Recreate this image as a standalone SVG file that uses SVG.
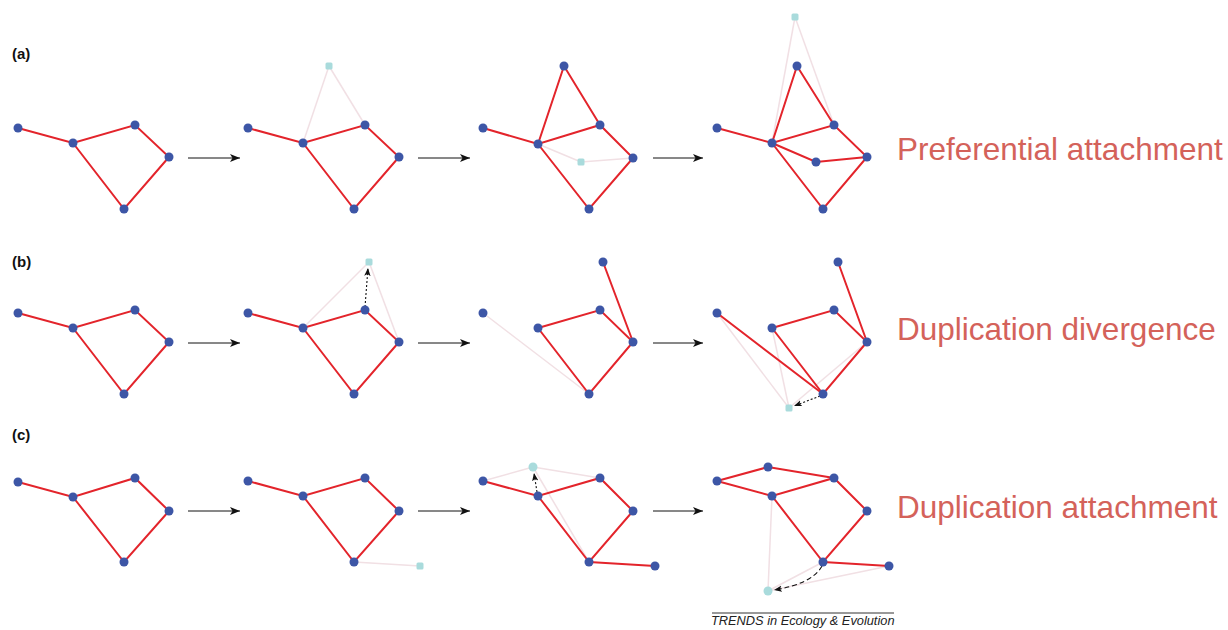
<svg xmlns="http://www.w3.org/2000/svg" width="1228" height="630" viewBox="0 0 1228 630">
  <style>
    .e { stroke: #e3242b; stroke-width: 2; fill: none; stroke-linecap: round; }
    .f { stroke: #f1e0e4; stroke-width: 1.5; fill: none; }
    .n { fill: #3d56a6; }
    .c { fill: #a9dbdc; }
    .step { stroke: #111; stroke-width: 1; fill: none; marker-end: url(#ah); }
    .dot { stroke: #111; stroke-width: 1.1; stroke-dasharray: 2 2; fill: none; marker-end: url(#sh); }
    .dash { stroke: #111; stroke-width: 1.1; stroke-dasharray: 5 3; fill: none; marker-end: url(#sh); }
    .lab { font-family: "Liberation Sans", Arial, sans-serif; font-weight: bold; font-size: 15px; fill: #111; }
    .model { font-family: "Liberation Sans", Arial, sans-serif; font-size: 31.5px; fill: #d4625a; }
    .credit { font-family: "Liberation Sans", Arial, sans-serif; font-style: italic; font-size: 12.8px; fill: #222; }
  </style>
  <defs>
    <marker id="ah" viewBox="0 0 10 8" refX="10" refY="4" markerWidth="11" markerHeight="8" markerUnits="userSpaceOnUse" orient="auto">
      <path d="M0,0 L10,4 L0,8 L2.5,4 z" fill="#111"/>
    </marker>
    <marker id="sh" viewBox="0 0 10 8" refX="10" refY="4" markerWidth="8" markerHeight="7" markerUnits="userSpaceOnUse" orient="auto">
      <path d="M0,0 L10,4 L0,8 L2.5,4 z" fill="#111"/>
    </marker>
  </defs>
  <rect width="1228" height="630" fill="#ffffff"/>

  <!-- panel labels -->
  <text class="lab" x="12" y="59">(a)</text>
  <text class="lab" x="12" y="267">(b)</text>
  <text class="lab" x="12" y="440">(c)</text>

  <!-- model names -->
  <text class="model" x="897" y="160">Preferential attachment</text>
  <text class="model" x="897" y="340">Duplication divergence</text>
  <text class="model" x="897" y="518">Duplication attachment</text>

  <!-- credit line -->
  <line x1="712" y1="613" x2="894" y2="613" stroke="#333" stroke-width="1"/>
  <text class="credit" x="711" y="625">TRENDS in Ecology &amp; Evolution</text>

  <g id="connectors">
    <!-- step arrows between snapshots -->
    <line class="step" x1="188" y1="158" x2="240" y2="158"/>
    <line class="step" x1="418" y1="158" x2="470" y2="158"/>
    <line class="step" x1="653" y1="158" x2="703" y2="158"/>
    <line class="step" x1="188" y1="343" x2="240" y2="343"/>
    <line class="step" x1="418" y1="343" x2="470" y2="343"/>
    <line class="step" x1="653" y1="343" x2="703" y2="343"/>
    <line class="step" x1="188" y1="511" x2="240" y2="511"/>
    <line class="step" x1="418" y1="511" x2="470" y2="511"/>
    <line class="step" x1="653" y1="511" x2="703" y2="511"/>

    <!-- (a) preferential attachment -->
    <path class="e" d="M18,128 L73,143 L135,125 L169,157 L124,209 L73,143"/>

    <line class="f" x1="303" y1="143" x2="329" y2="66"/>
    <line class="f" x1="329" y1="66" x2="365" y2="125"/>
    <path class="e" d="M248,128 L303,143 L365,125 L399,157 L354,209 L303,143"/>

    <line class="f" x1="538" y1="144" x2="581" y2="162"/>
    <line class="f" x1="581" y1="162" x2="633" y2="158"/>
    <path class="e" d="M483,128 L538,144 L600,125 L633,158 L589,209 L538,144"/>
    <path class="e" d="M538,144 L564,66 L600,125"/>

    <line class="f" x1="772" y1="143" x2="795" y2="17"/>
    <line class="f" x1="795" y1="17" x2="834" y2="125"/>
    <path class="e" d="M717,128 L772,143 L834,125 L867,157 L823,209 L772,143"/>
    <path class="e" d="M772,143 L797,66 L834,125"/>
    <path class="e" d="M772,143 L816,162 L867,157"/>

    <!-- (b) duplication divergence -->
    <path class="e" d="M18,313 L73,328 L135,310 L169,342 L124,394 L73,328"/>

    <line class="f" x1="303" y1="328" x2="369" y2="262"/>
    <line class="f" x1="369" y1="262" x2="399" y2="342"/>
    <path class="e" d="M248,313 L303,328 L365,310 L399,342 L354,394 L303,328"/>
    <line class="dot" x1="365" y1="307" x2="368" y2="268"/>

    <line class="f" x1="483" y1="313" x2="589" y2="394"/>
    <path class="e" d="M538,328 L600,310 L633,342 L589,394 L538,328"/>
    <line class="e" x1="603" y1="262" x2="633" y2="342"/>

    <line class="f" x1="717" y1="313" x2="789" y2="408"/>
    <line class="f" x1="772" y1="328" x2="789" y2="408"/>
    <line class="f" x1="867" y1="342" x2="789" y2="408"/>
    <line class="e" x1="717" y1="313" x2="823" y2="394"/>
    <path class="e" d="M772,328 L834,310 L867,342 L823,394 L772,328"/>
    <line class="e" x1="838" y1="262" x2="867" y2="342"/>
    <line class="dot" x1="820" y1="396" x2="794" y2="406"/>

    <!-- (c) duplication attachment -->
    <path class="e" d="M18,482 L73,497 L135,478 L169,511 L124,562 L73,497"/>

    <line class="f" x1="354" y1="562" x2="420" y2="566"/>
    <path class="e" d="M248,481 L303,496 L365,478 L399,511 L354,562 L303,496"/>

    <line class="f" x1="483" y1="481" x2="533" y2="467"/>
    <line class="f" x1="533" y1="467" x2="600" y2="478"/>
    <line class="f" x1="533" y1="467" x2="589" y2="562"/>
    <path class="e" d="M483,481 L538,496 L600,478 L633,511 L589,562 L538,496"/>
    <line class="e" x1="589" y1="562" x2="655" y2="566"/>
    <line class="dot" x1="537" y1="492" x2="534" y2="473"/>

    <line class="f" x1="772" y1="496" x2="768" y2="591"/>
    <line class="f" x1="768" y1="591" x2="823" y2="562"/>
    <line class="f" x1="768" y1="591" x2="889" y2="566"/>
    <path class="e" d="M717,481 L768,467 L834,478"/>
    <path class="e" d="M717,481 L772,496 L834,478 L867,511 L823,562 L772,496"/>
    <line class="e" x1="823" y1="562" x2="889" y2="566"/>
    <path class="dash" d="M822,566 Q812,584 774,590"/>
  </g>

  <!-- (a) nodes -->
  <g id="a1"><circle id="a1-1" class="n" cx="18" cy="128" r="4.5"/><circle id="a1-2" class="n" cx="73" cy="143" r="4.5"/><circle id="a1-3" class="n" cx="135" cy="125" r="4.5"/><circle id="a1-4" class="n" cx="169" cy="157" r="4.5"/><circle id="a1-5" class="n" cx="124" cy="209" r="4.5"/></g>
  <g id="a2"><circle id="a2-1" class="n" cx="248" cy="128" r="4.5"/><circle id="a2-2" class="n" cx="303" cy="143" r="4.5"/><circle id="a2-3" class="n" cx="365" cy="125" r="4.5"/><circle id="a2-4" class="n" cx="399" cy="157" r="4.5"/><circle id="a2-5" class="n" cx="354" cy="209" r="4.5"/><rect id="a2-new" class="c" x="325.5" y="62.5" width="7" height="7" rx="1.5"/></g>
  <g id="a3"><circle id="a3-1" class="n" cx="483" cy="128" r="4.5"/><circle id="a3-2" class="n" cx="538" cy="144" r="4.5"/><circle id="a3-3" class="n" cx="600" cy="125" r="4.5"/><circle id="a3-4" class="n" cx="633" cy="158" r="4.5"/><circle id="a3-5" class="n" cx="589" cy="209" r="4.5"/><circle id="a3-6" class="n" cx="564" cy="66" r="4.5"/><rect id="a3-new" class="c" x="577.5" y="158.5" width="7" height="7" rx="1.5"/></g>
  <g id="a4"><circle id="a4-1" class="n" cx="717" cy="128" r="4.5"/><circle id="a4-2" class="n" cx="772" cy="143" r="4.5"/><circle id="a4-3" class="n" cx="834" cy="125" r="4.5"/><circle id="a4-4" class="n" cx="867" cy="157" r="4.5"/><circle id="a4-5" class="n" cx="823" cy="209" r="4.5"/><circle id="a4-6" class="n" cx="797" cy="66" r="4.5"/><circle id="a4-7" class="n" cx="816" cy="162" r="4.5"/><rect id="a4-new" class="c" x="791.5" y="13.5" width="7" height="7" rx="1.5"/></g>

  <!-- (b) nodes -->
  <g id="b1"><circle id="b1-1" class="n" cx="18" cy="313" r="4.5"/><circle id="b1-2" class="n" cx="73" cy="328" r="4.5"/><circle id="b1-3" class="n" cx="135" cy="310" r="4.5"/><circle id="b1-4" class="n" cx="169" cy="342" r="4.5"/><circle id="b1-5" class="n" cx="124" cy="394" r="4.5"/></g>
  <g id="b2"><circle id="b2-1" class="n" cx="248" cy="313" r="4.5"/><circle id="b2-2" class="n" cx="303" cy="328" r="4.5"/><circle id="b2-3" class="n" cx="365" cy="310" r="4.5"/><circle id="b2-4" class="n" cx="399" cy="342" r="4.5"/><circle id="b2-5" class="n" cx="354" cy="394" r="4.5"/><rect id="b2-copy" class="c" x="365.5" y="258.5" width="7" height="7" rx="1.5"/></g>
  <g id="b3"><circle id="b3-1" class="n" cx="483" cy="313" r="4.5"/><circle id="b3-2" class="n" cx="538" cy="328" r="4.5"/><circle id="b3-3" class="n" cx="600" cy="310" r="4.5"/><circle id="b3-4" class="n" cx="633" cy="342" r="4.5"/><circle id="b3-5" class="n" cx="589" cy="394" r="4.5"/><circle id="b3-6" class="n" cx="603" cy="262" r="4.5"/></g>
  <g id="b4"><circle id="b4-1" class="n" cx="717" cy="313" r="4.5"/><circle id="b4-2" class="n" cx="772" cy="328" r="4.5"/><circle id="b4-3" class="n" cx="834" cy="310" r="4.5"/><circle id="b4-4" class="n" cx="867" cy="342" r="4.5"/><circle id="b4-5" class="n" cx="823" cy="394" r="4.5"/><circle id="b4-6" class="n" cx="838" cy="262" r="4.5"/><rect id="b4-copy" class="c" x="785.5" y="404.5" width="7" height="7" rx="1.5"/></g>

  <!-- (c) nodes -->
  <g id="c1"><circle id="c1-1" class="n" cx="18" cy="482" r="4.5"/><circle id="c1-2" class="n" cx="73" cy="497" r="4.5"/><circle id="c1-3" class="n" cx="135" cy="478" r="4.5"/><circle id="c1-4" class="n" cx="169" cy="511" r="4.5"/><circle id="c1-5" class="n" cx="124" cy="562" r="4.5"/></g>
  <g id="c2"><circle id="c2-1" class="n" cx="248" cy="481" r="4.5"/><circle id="c2-2" class="n" cx="303" cy="496" r="4.5"/><circle id="c2-3" class="n" cx="365" cy="478" r="4.5"/><circle id="c2-4" class="n" cx="399" cy="511" r="4.5"/><circle id="c2-5" class="n" cx="354" cy="562" r="4.5"/><rect id="c2-new" class="c" x="416.5" y="562.5" width="7" height="7" rx="1.5"/></g>
  <g id="c3"><circle id="c3-1" class="n" cx="483" cy="481" r="4.5"/><circle id="c3-2" class="n" cx="538" cy="496" r="4.5"/><circle id="c3-3" class="n" cx="600" cy="478" r="4.5"/><circle id="c3-4" class="n" cx="633" cy="511" r="4.5"/><circle id="c3-5" class="n" cx="589" cy="562" r="4.5"/><circle id="c3-6" class="n" cx="655" cy="566" r="4.5"/><circle id="c3-copy" class="c" cx="533" cy="467" r="4.5"/></g>
  <g id="c4"><circle id="c4-1" class="n" cx="717" cy="481" r="4.5"/><circle id="c4-2" class="n" cx="772" cy="496" r="4.5"/><circle id="c4-3" class="n" cx="834" cy="478" r="4.5"/><circle id="c4-4" class="n" cx="867" cy="511" r="4.5"/><circle id="c4-5" class="n" cx="823" cy="562" r="4.5"/><circle id="c4-6" class="n" cx="889" cy="566" r="4.5"/><circle id="c4-7" class="n" cx="768" cy="467" r="4.5"/><circle id="c4-copy" class="c" cx="768" cy="591" r="4.5"/></g>
</svg>
